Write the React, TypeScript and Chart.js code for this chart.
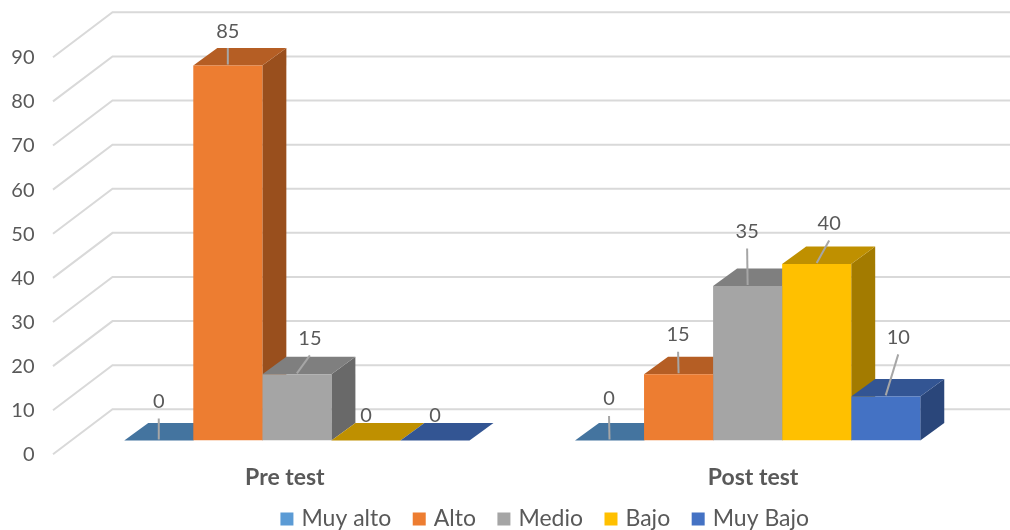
import React, { useEffect, useRef } from "react";
import { Chart, registerables } from "chart.js";

Chart.register(...registerables);

const categories = ["Pre test", "Post test"];
const seriesNames = ["Muy alto", "Alto", "Medio", "Bajo", "Muy Bajo"];
const muyAlto = [0, 0];
const alto = [85, 15];
const medio = [15, 35];
const bajo = [0, 40];
const muyBajo = [0, 10];
const seriesValues = [muyAlto, alto, medio, bajo, muyBajo];

const frontColors = ["#5B9BD5", "#ED7D31", "#A5A5A5", "#FFC000", "#4472C4"];
const zeroFrontColor = "#44749F";
const topColors = ["#44749F", "#B55E24", "#7F7F7F", "#BF9000", "#335593"];
const sideColors = ["#3A6486", "#994F1D", "#696969", "#A37B00", "#2A467A"];

const TEXT = "#595959";
const GRID = "#D9D9D9";
const LEADER = "#A6A6A6";
const FONT = "Lato";
const LEGEND_PADDING = 25;
const LEGEND_FONT = 23;

// Extrusion of each bar and reach of the walls, in pixels.
const DEPTH_X = 24;
const DEPTH_Y = 17.5;
const WALL_BACK = { dx: 41, dy: -31.2 };
const WALL_FRONT = { dx: -18.5, dy: 13.8 };

// Per series, per category: label offset from the bar's front-top centre, and whether a leader is drawn.
const labelPlacement: [number, number, boolean][][] = [
  [[0, -39, true], [-0.5, -41.5, true]],
  [[0, -34.5, true], [-0.5, -39.5, true]],
  [[13, -36, true], [-0.5, -54.5, true]],
  [[0, -25, false], [12.5, -40.5, true]],
  [[0, -25, false], [12.5, -59, true]],
];
const categoryLabelShift = [-12, 5.5];

const scene3d = {
  id: "scene3d",
  afterLayout(chart: any) {
    // The legend sits off-centre, under the plot.
    const legend = chart.legend;
    legend.left += 60;
    legend.right += 60;
    legend.top = 519 - LEGEND_PADDING - LEGEND_FONT / 2;
    legend.bottom = legend.top + legend.height;
    legend.adjustHitBoxes();
  },
  beforeDatasetsDraw(chart: any) {
    const { ctx, scales } = chart;
    const y = scales.y;
    const x = scales.x;
    const left = x.left;

    ctx.save();
    ctx.strokeStyle = GRID;
    ctx.lineWidth = 2;
    y.ticks.forEach((t: any) => {
      const py = y.getPixelForValue(t.value);
      ctx.beginPath();
      ctx.moveTo(left + WALL_FRONT.dx, py + WALL_FRONT.dy);
      ctx.lineTo(left + WALL_BACK.dx, py + WALL_BACK.dy);
      ctx.lineTo(chart.width, py + WALL_BACK.dy);
      ctx.stroke();
    });

    // Side and top faces, painted left to right so neighbours overlap correctly.
    seriesValues.forEach((_, i) => {
      const meta = chart.getDatasetMeta(i);
      meta.data.forEach((bar: any) => {
        const l = bar.x - bar.width / 2;
        const r = bar.x + bar.width / 2;
        ctx.fillStyle = sideColors[i];
        ctx.beginPath();
        ctx.moveTo(r, bar.base);
        ctx.lineTo(r + DEPTH_X, bar.base - DEPTH_Y);
        ctx.lineTo(r + DEPTH_X, bar.y - DEPTH_Y);
        ctx.lineTo(r, bar.y);
        ctx.closePath();
        ctx.fill();
        ctx.fillStyle = topColors[i];
        ctx.beginPath();
        ctx.moveTo(l, bar.y);
        ctx.lineTo(l + DEPTH_X, bar.y - DEPTH_Y);
        ctx.lineTo(r + DEPTH_X, bar.y - DEPTH_Y);
        ctx.lineTo(r, bar.y);
        ctx.closePath();
        ctx.fill();
      });
    });
    ctx.restore();
  },
  afterDatasetsDraw(chart: any) {
    const { ctx, scales } = chart;
    ctx.save();
    ctx.textAlign = "center";
    ctx.textBaseline = "middle";

    seriesValues.forEach((values, i) => {
      const meta = chart.getDatasetMeta(i);
      meta.data.forEach((bar: any, j: number) => {
        const [dx, dy, leader] = labelPlacement[i][j];
        if (leader) {
          ctx.strokeStyle = LEADER;
          ctx.lineWidth = 2;
          ctx.beginPath();
          ctx.moveTo(bar.x, bar.y - 1);
          ctx.lineTo(bar.x + dx, bar.y + dy + 17);
          ctx.stroke();
        }
        ctx.fillStyle = TEXT;
        ctx.font = `20px ${FONT}`;
        ctx.fillText(String(values[j]), bar.x + dx, bar.y + dy);
      });
    });

    ctx.fillStyle = TEXT;
    ctx.font = `bold 23px ${FONT}`;
    categories.forEach((name, j) => {
      ctx.fillText(name, scales.x.getPixelForTick(j) + categoryLabelShift[j], 478);
    });
    ctx.restore();
  },
};

export default function App() {
  const ref = useRef<HTMLCanvasElement>(null);

  useEffect(() => {
    document.body.style.margin = "0";
    const chart = new Chart(ref.current!, {
      type: "bar",
      data: {
        labels: categories,
        datasets: seriesNames.map((name, i) => ({
          label: name,
          data: seriesValues[i],
          backgroundColor: i === 0 ? zeroFrontColor : frontColors[i],
          barPercentage: 1,
          categoryPercentage: 0.766,
        })),
      },
      plugins: [scene3d],
      options: {
        animation: false,
        responsive: false,
        layout: { autoPadding: false, padding: { top: 43.5, right: 37, left: 0, bottom: 0 } },
        scales: {
          x: {
            grid: { display: false, drawTicks: false },
            border: { display: false },
            ticks: { display: false },
            afterFit(scale: any) {
              scale.height = 89.5 - (scale.chart.legend?.height ?? 0);
            },
          },
          y: {
            min: 0,
            max: 90,
            grid: { display: false, drawTicks: false },
            border: { display: false },
            ticks: {
              stepSize: 10,
              autoSkip: false,
              padding: 37,
              labelOffset: 14.3,
              color: TEXT,
              font: { family: FONT, size: 20 },
            },
            afterFit(scale: any) {
              scale.width = 71.5;
              scale.paddingTop = 0;
              scale.paddingBottom = 0;
            },
          },
        },
        plugins: {
          tooltip: { enabled: false },
          legend: {
            position: "bottom",
            labels: {
              usePointStyle: true,
              pointStyle: "rect",
              boxWidth: 6,
              boxHeight: 13,
              padding: LEGEND_PADDING,
              color: TEXT,
              font: { family: FONT, size: LEGEND_FONT },
              generateLabels: () =>
                seriesNames.map((name, i) => ({
                  text: name,
                  fillStyle: frontColors[i],
                  strokeStyle: frontColors[i],
                  lineWidth: 0,
                  pointStyle: "rect",
                  rotation: 0,
                  fontColor: TEXT,
                  datasetIndex: i,
                })),
            },
          },
        },
      },
    } as any);
    return () => chart.destroy();
  }, []);

  return <canvas ref={ref} width={1010} height={530} style={{ display: "block" }} />;
}
